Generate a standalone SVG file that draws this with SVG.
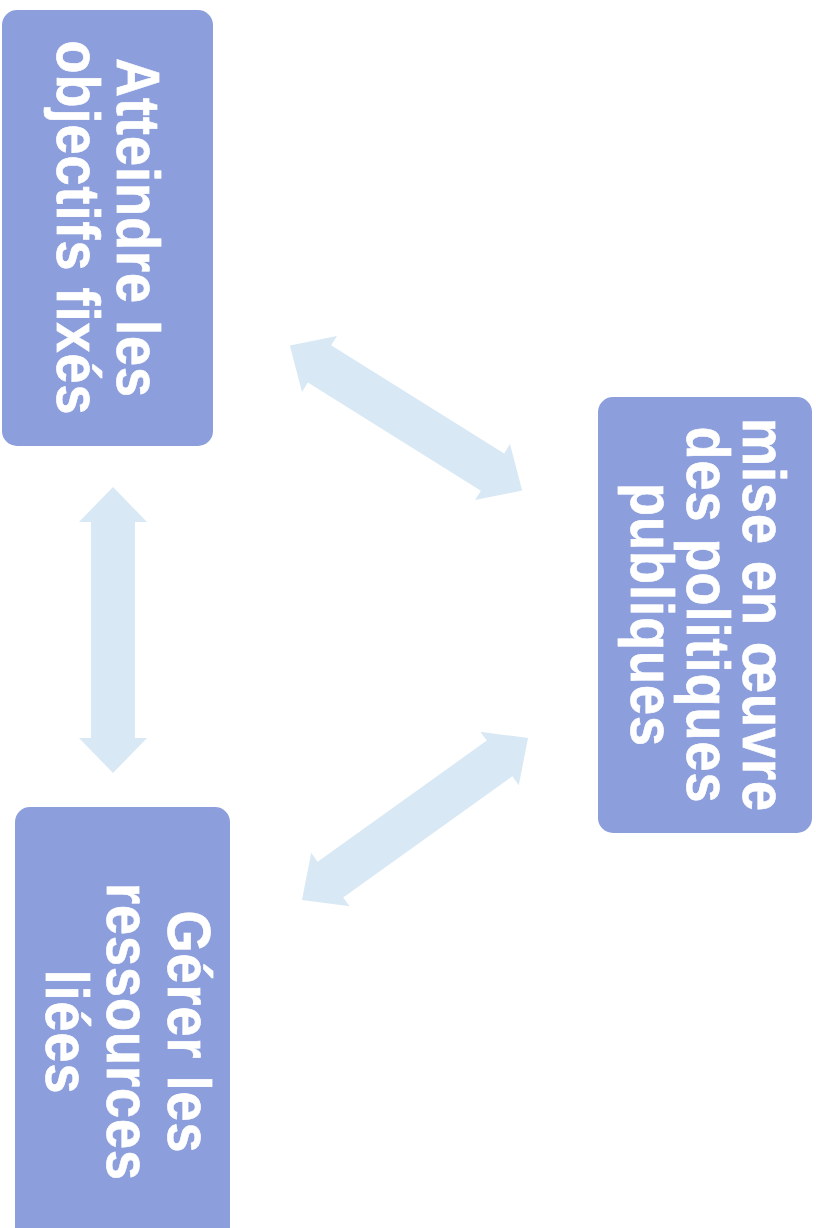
<svg xmlns="http://www.w3.org/2000/svg" width="816" height="1228" viewBox="0 0 816 1228">
<style>
.box{fill:#8c9fdc}
.lbl{font-family:"Liberation Sans",Arial,sans-serif;font-weight:bold;font-size:54px;letter-spacing:1px;fill:#ffffff;stroke:#ffffff;stroke-width:0.6;text-anchor:middle}
.arr{fill:#d8e9f5}
</style>
<rect width="816" height="1228" fill="#ffffff"/>
<g id="connectors">
<polygon class="arr" transform="translate(406,418) rotate(32)" points="-137,0 -102,-33 -102,-22 102,-22 102,-33 137,0 102,33 102,22 -102,22 -102,33"/>
<polygon class="arr" transform="translate(415,819) rotate(-35.6)" points="-139,0 -104,-33 -104,-22 104,-22 104,-33 139,0 104,33 104,22 -104,22 -104,33"/>
<polygon class="arr" transform="translate(113,630) rotate(90)" points="-143,0 -108,-34 -108,-22 108,-22 108,-34 143,0 108,34 108,22 -108,22 -108,34"/>
</g>
<g id="node-objectifs">
<rect class="box" x="2" y="10" width="211" height="436" rx="15"/>
<text class="lbl" transform="translate(117,228) rotate(90) scale(1,1.12)"><tspan x="0" y="0">Atteindre les</tspan><tspan x="0" y="53.5">objectifs fixés</tspan></text>
</g>
<g id="node-politiques">
<rect class="box" x="598" y="397" width="214" height="436" rx="15"/>
<text class="lbl" transform="translate(743,615) rotate(90) scale(1,1.12)"><tspan x="0" y="0">mise en œuvre</tspan><tspan x="0" y="50">des politiques</tspan><tspan x="0" y="100">publiques</tspan></text>
</g>
<g id="node-ressources">
<rect class="box" x="15" y="807" width="215" height="436" rx="15"/>
<text class="lbl" transform="translate(168,1032) rotate(90) scale(1,1.12)"><tspan x="0" y="0">Gérer les</tspan><tspan x="0" y="54.5">ressources</tspan><tspan x="0" y="109">liées</tspan></text>
</g>
</svg>
